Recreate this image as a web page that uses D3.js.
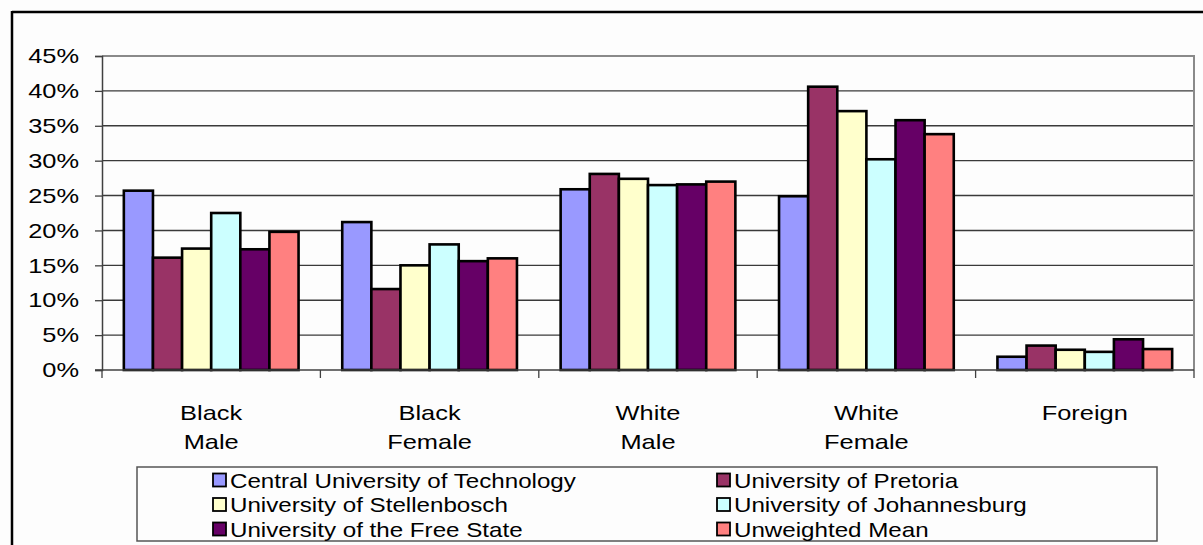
<!DOCTYPE html>
<html>
<head>
<meta charset="utf-8">
<script src="https://cdn.jsdelivr.net/npm/d3@7/dist/d3.min.js"></script>
<style>
  html, body { margin: 0; padding: 0; background: #fdfdfd; }
  svg { display: block; font-family: Arial, "Liberation Sans", sans-serif; }
</style>
</head>
<body>
<svg id="chart" width="1203" height="545"></svg>
<script>
// Groups along the x axis (two-line labels)
const categories = ["Black Male", "Black Female", "White Male", "White Female", "Foreign"];
const categoryLines = [["Black", "Male"], ["Black", "Female"], ["White", "Male"], ["White", "Female"], ["Foreign"]];

// Series (percent of students)
const seriesNames = [
  "Central University of Technology",
  "University of Pretoria",
  "University of Stellenbosch",
  "University of Johannesburg",
  "University of the Free State",
  "Unweighted Mean"
];
const cutValues   = [25.7, 21.2, 25.9, 24.9, 1.9];
const upValues    = [16.1, 11.6, 28.1, 40.6, 3.5];
const stellValues = [17.4, 15.0, 27.4, 37.1, 2.9];
const ujValues    = [22.5, 18.0, 26.5, 30.2, 2.6];
const ufsValues   = [17.3, 15.6, 26.6, 35.8, 4.4];
const meanValues  = [19.8, 16.0, 27.0, 33.8, 3.0];
const seriesValues = [cutValues, upValues, stellValues, ujValues, ufsValues, meanValues];
const seriesColors = ["#9999FF", "#993366", "#FFFFCC", "#CCFFFF", "#660066", "#FF8080"];

// Y axis ticks
const yTicks = [0, 5, 10, 15, 20, 25, 30, 35, 40, 45];

const svg = d3.select("#chart");

// Widen glyphs horizontally while keeping the text anchor in place
function widen(selection, k) {
  selection.each(function () {
    const len = this.getComputedTextLength();
    d3.select(this).attr("textLength", len * k).attr("lengthAdjust", "spacingAndGlyphs");
  });
}

// Outer chart frame (left and top edges visible)
svg.append("line").attr("x1", 12).attr("y1", 12).attr("x2", 1203).attr("y2", 12)
  .attr("stroke", "#000").attr("stroke-width", 2.5);
svg.append("line").attr("x1", 12).attr("y1", 11).attr("x2", 12).attr("y2", 545)
  .attr("stroke", "#000").attr("stroke-width", 2.5);

const plot = { left: 102, right: 1194, top: 56, bottom: 370 };

const x0 = d3.scaleBand().domain(categories).range([plot.left, plot.right]).paddingInner(0).paddingOuter(0);
const x1 = d3.scaleBand().domain(seriesNames).range([0, x0.bandwidth()]).paddingOuter(0.75).paddingInner(0);
const y = d3.scaleLinear().domain([0, 45]).range([plot.bottom, plot.top]);

// Gridlines
svg.append("g").selectAll("line").data(yTicks.filter(t => t > 0 && t < 45)).join("line")
  .attr("x1", plot.left).attr("x2", plot.right)
  .attr("y1", d => y(d)).attr("y2", d => y(d))
  .attr("stroke", "#3a3a3a").attr("stroke-width", 1.4);

// Plot area border (top and right)
svg.append("path")
  .attr("d", `M${plot.left},${y(45)}H${plot.right}V${plot.bottom}`)
  .attr("fill", "none").attr("stroke", "#8a8a8a").attr("stroke-width", 2);

// Y axis
const yAxis = d3.axisLeft(y).tickValues(yTicks).tickSize(7).tickPadding(16).tickFormat(d => d + "%");
const gy = svg.append("g").attr("transform", `translate(${plot.left},0)`).call(yAxis);
gy.select(".domain").attr("stroke", "#404040").attr("stroke-width", 1.5);
gy.selectAll(".tick line").attr("stroke", "#404040").attr("stroke-width", 1.3);
gy.selectAll(".tick text").attr("font-size", 21).attr("fill", "#000")
  .attr("font-family", "Arial, 'Liberation Sans', sans-serif")
  .call(widen, 1.21);

// Bars
const groups = svg.append("g").selectAll("g").data(categories).join("g")
  .attr("transform", d => `translate(${x0(d)},0)`);
groups.selectAll("rect")
  .data((c, ci) => seriesNames.map((s, si) => ({ s, si, v: seriesValues[si][ci] })))
  .join("rect")
  .attr("x", d => x1(d.s))
  .attr("width", x1.bandwidth())
  .attr("y", d => y(d.v))
  .attr("height", d => y(0) - y(d.v))
  .attr("fill", d => seriesColors[d.si])
  .attr("stroke", "#000").attr("stroke-width", 2.6);

// X axis line and category boundary ticks
svg.append("line").attr("x1", plot.left - 7).attr("x2", plot.right)
  .attr("y1", plot.bottom).attr("y2", plot.bottom)
  .attr("stroke", "#404040").attr("stroke-width", 1.5);
const boundaries = categories.map(c => x0(c)).concat([plot.right]);
svg.append("g").selectAll("line").data(boundaries).join("line")
  .attr("x1", d => d).attr("x2", d => d)
  .attr("y1", plot.bottom).attr("y2", plot.bottom + 8)
  .attr("stroke", "#404040").attr("stroke-width", 1.3);

// Category labels, one text element per line
const labelData = [];
categories.forEach((c, i) => categoryLines[i].forEach((t, li) => labelData.push({ c, t, li })));
svg.append("g").selectAll("text").data(labelData).join("text")
  .attr("x", d => x0(d.c) + x0.bandwidth() / 2)
  .attr("y", d => 420 + d.li * 29)
  .attr("text-anchor", "middle").attr("font-size", 21).attr("fill", "#000")
  .text(d => d.t)
  .call(widen, 1.21);

// Legend
const legend = svg.append("g");
legend.append("rect").attr("x", 137).attr("y", 467).attr("width", 1020).attr("height", 74)
  .attr("fill", "#fdfdfd").attr("stroke", "#555").attr("stroke-width", 1.5);
const legendCols = [213, 717];
const legendRows = [480, 504.5, 529];
const items = legend.selectAll("g.item").data(seriesNames).join("g")
  .attr("class", "item")
  .attr("transform", (d, i) => `translate(${legendCols[i % 2]},${legendRows[Math.floor(i / 2)]})`);
items.append("rect").attr("x", 0).attr("y", -6.5).attr("width", 13).attr("height", 13)
  .attr("fill", (d, i) => seriesColors[i]).attr("stroke", "#000").attr("stroke-width", 1.8);
items.append("text").attr("x", 17).attr("y", 0).attr("dy", "0.36em")
  .attr("font-size", 21).attr("fill", "#000").text(d => d)
  .call(widen, 1.15);
</script>
</body>
</html>
